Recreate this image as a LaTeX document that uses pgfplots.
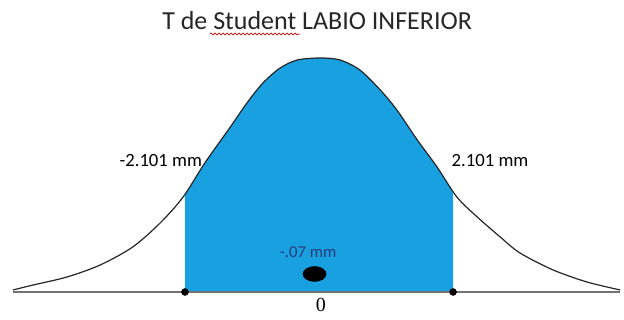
\documentclass[border=0pt]{standalone}
\usepackage{pgfplots}
\pgfplotsset{compat=1.18}
\usepackage{pgfplotstable}
\usepgfplotslibrary{fillbetween}
\usetikzlibrary{decorations.pathmorphing}
\usepackage{fontspec}
\setmainfont{Carlito}
\newfontfamily\zerofont{Liberation Serif}

\definecolor{areablue}{RGB}{24,160,225}
\definecolor{notenavy}{RGB}{40,60,120}

% density curve: t (mm) and height
\pgfplotstableread{
t      h
-4.80  2
-4.48  7
-3.95  15
-3.43  27
-2.92  45
-2.49  69
-2.13  95
-1.79  129
-1.39  165
-1.13  189
-0.88  209
-0.61  224
-0.34  232
0.02   234
0.33   232
0.64   222
0.96   202
1.22   182
1.54   152
1.85   125
2.16   95
2.48   75
2.84   55
3.15   39
3.67   22
4.20   10
4.72   2
}\curvedata

\begin{document}
\begin{tikzpicture}
\begin{axis}[
  width=468pt, height=240pt, scale only axis,
  xmin=-5.0, xmax=4.78, ymin=-28, ymax=292,
  hide axis, clip=false,
]
% baseline
\addplot[name path=base, draw=black!55, line width=1.6pt] coordinates {(-4.80,0) (4.72,0)};
% hidden copy of the curve for the shaded region
\addplot[name path=curve, draw=none, smooth] table[x=t, y=h] {\curvedata};
\addplot[areablue] fill between[of=curve and base, soft clip={domain=-2.101:2.101}];
% the curve itself
\addplot[black!85, line width=0.9pt, smooth] table[x=t, y=h] {\curvedata};
% critical values
\addplot[only marks, mark=*, mark size=2.6pt, black] coordinates {(-2.101,0) (2.101,0)};
% observed mean
\addplot[only marks, mark=*, mark size=5.6pt, black, mark options={xscale=1.55}] coordinates {(-0.07,18)};

\node[font=\fontsize{19.5}{22}\selectfont, text=black!85] at (axis cs:-0.03,271) {T de Student LABIO INFERIOR};
\draw[red!80!black, line width=0.5pt, decorate, decoration={snake, amplitude=0.7pt, segment length=3pt}]
  (axis cs:-1.71,258) -- (axis cs:-0.30,258);
\node[font=\fontsize{14}{16}\selectfont] at (axis cs:-2.48,131) {-2.101 mm};
\node[font=\fontsize{14}{16}\selectfont] at (axis cs:2.68,131) {2.101 mm};
\node[font=\fontsize{12.5}{14}\selectfont, text=notenavy] at (axis cs:-0.17,40) {-.07 mm};
\node[font=\zerofont\fontsize{15}{17}\selectfont] at (axis cs:0.03,-13) {0};
\end{axis}
\pgfresetboundingbox
\path (current axis.south west) rectangle (current axis.north east);
\end{tikzpicture}
\end{document}
